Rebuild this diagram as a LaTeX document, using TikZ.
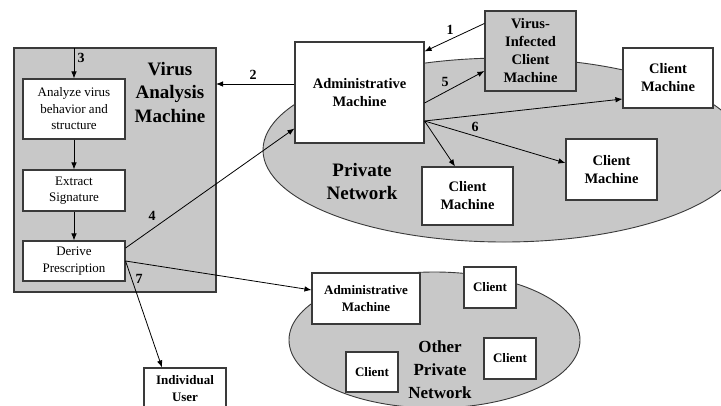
\documentclass[tikz,border=0pt]{standalone}
\usepackage{fontspec}
\setmainfont{Liberation Serif}
\usetikzlibrary{arrows.meta}
\definecolor{netgray}{HTML}{C8C8C8}
\definecolor{edgegray}{HTML}{3A3A3A}
\tikzset{
  box/.style={draw=edgegray, line width=1.1pt, fill=white, align=center, inner sep=1pt},
  bigbox/.style={box, font=\fontsize{14.5}{18}\selectfont\bfseries},
  smallbox/.style={box, font=\fontsize{13}{16.5}\selectfont},
  lowbox/.style={box, font=\fontsize{13}{17}\selectfont\bfseries},
  arr/.style={draw=black, line width=0.8pt, -{Latex[length=7pt,width=5.5pt]}},
  num/.style={font=\fontsize{14}{14}\selectfont\bfseries, inner sep=0pt},
  title/.style={align=center, font=\fontsize{19}{23.5}\selectfont\bfseries, inner sep=0pt},
  net/.style={draw=edgegray, line width=0.9pt, fill=netgray}
}
\begin{document}
\begin{tikzpicture}[x=1pt,y=-1pt]
\clip (0,0) rectangle (721,405);
\fill[white] (0,0) rectangle (721,405);
% networks
\draw[net] (504,150) ellipse [x radius=241, y radius=92];
\draw[net] (434.5,340) ellipse [x radius=145.5, y radius=68];
% virus analysis machine
\draw[draw=edgegray, line width=1.3pt, fill=netgray] (14,48) rectangle (216,292);
\node[title] (vamt) at (170,92) {Virus\\Analysis\\Machine};
\coordinate (vamtop) at (115,48);
\coordinate (vameast) at (216,170);
\node[smallbox, minimum width=102pt, minimum height=60pt] (analyze) at (74,109) {Analyze virus\\behavior and\\structure};
\node[smallbox, minimum width=102pt, minimum height=41pt] (extract) at (74,190.5) {Extract\\Signature};
\node[smallbox, minimum width=102pt, minimum height=40pt] (derive) at (74,261) {Derive\\Prescription};
% private network
\node[bigbox, minimum width=129pt, minimum height=101pt] (admin) at (359.5,92.5) {Administrative\\Machine};
\node[bigbox, fill=netgray, minimum width=91pt, minimum height=80pt] (virus) at (530.5,51) {Virus-\\Infected\\Client\\Machine};
\node[bigbox, minimum width=90pt, minimum height=60pt] (ctr) at (668,78) {Client\\Machine};
\node[bigbox, minimum width=91pt, minimum height=61pt] (cmr) at (611.5,169.5) {Client\\Machine};
\node[bigbox, minimum width=91pt, minimum height=58pt] (cb) at (467.5,196) {Client\\Machine};
\node[title] (pnt) at (362,181.5) {Private\\Network};
% other network
\node[lowbox, minimum width=108pt, minimum height=51pt] (oadmin) at (366,298.5) {Administrative\\Machine};
\node[lowbox, minimum width=52pt, minimum height=41pt] (oct) at (490,287.5) {Client};
\node[lowbox, minimum width=52pt, minimum height=40pt] (ocl) at (372,372) {Client};
\node[lowbox, minimum width=52pt, minimum height=41pt] (ocr) at (510,358.5) {Client};
\node[align=center, font=\fontsize{17}{23}\selectfont\bfseries, inner sep=0pt] (ont) at (440,369.5) {Other\\Private\\Network};
\node[lowbox, minimum width=82pt, minimum height=42pt] (iu) at (185,389) {Individual\\User};
% connectors
\coordinate (a1s) at ([yshift=-13pt]virus.north west);
\coordinate (a1e) at ([yshift=-10pt]admin.north east);
\draw[arr] (a1s) -- (a1e);
\coordinate (a2) at ([yshift=8.5pt]admin.west);
\draw[arr] (a2) -- (a2 -| vameast);
\draw[arr] (analyze.north |- vamtop) -- (analyze.north);
\draw[arr] (analyze) -- (extract);
\draw[arr] (extract) -- (derive);
\draw[arr] ([yshift=13pt]derive.east) -- ([yshift=-36pt]admin.west);
\draw[arr] ([yshift=-10.5pt]admin.east) -- ([yshift=-20pt]virus.west);
\coordinate (c6) at ([yshift=-28.5pt]admin.east);
\draw[arr] (c6) -- ([yshift=-21pt]ctr.west);
\draw[arr] (c6) -- ([yshift=6.5pt]cmr.west);
\draw[arr] (c6) -- ([xshift=-12.5pt]cb.north);
\draw[arr] (derive.east) -- ([yshift=8.5pt]oadmin.west);
\draw[arr] (derive.east) -- ([xshift=-23pt]iu.north);
% numbers
\node[num] (n1) at (450,30) {1};
\node[num] (n2) at (253,75) {2};
\node[num] (n3) at (81,58) {3};
\node[num] (n4) at (152,216) {4};
\node[num] (n5) at (445,82) {5};
\node[num] (n6) at (475,127) {6};
\node[num] (n7) at (139,279) {7};
\end{tikzpicture}
\end{document}
